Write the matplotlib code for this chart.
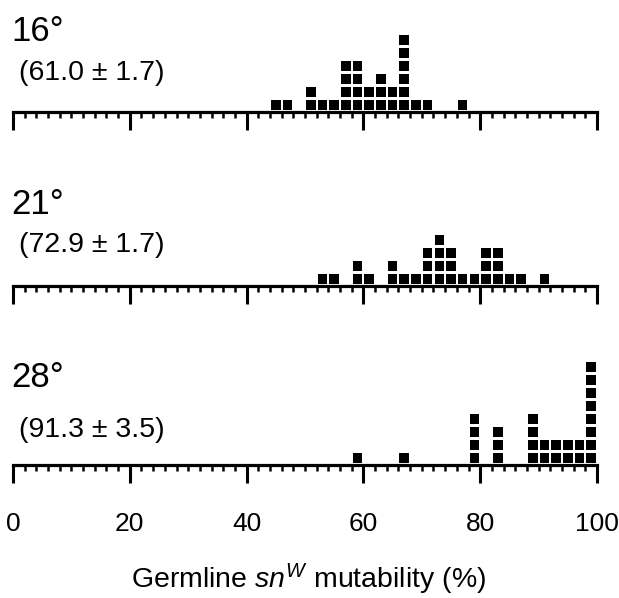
import matplotlib
matplotlib.use("Agg")
import matplotlib.pyplot as plt
from matplotlib.patches import Rectangle
from matplotlib.ticker import MultipleLocator

plt.rcParams['font.family'] = ['Liberation Sans', 'DejaVu Sans']
plt.rcParams['mathtext.fontset'] = 'custom'
plt.rcParams['mathtext.rm'] = 'Liberation Sans'
plt.rcParams['mathtext.it'] = 'Liberation Sans:italic'

# mutability bins (% , bin centres) and number of lines in each bin
bins16 = [45, 47, 51, 53, 55, 57, 59, 61, 63, 65, 67, 69, 71, 77]
counts16 = [1, 1, 2, 1, 1, 4, 4, 2, 3, 2, 6, 1, 1, 1]

bins21 = [53, 55, 59, 61, 65, 67, 69, 71, 73, 75, 77, 79, 81, 83, 85, 87, 91]
counts21 = [1, 1, 2, 1, 2, 1, 1, 3, 4, 3, 1, 1, 3, 3, 1, 1, 1]

bins28 = [59, 67, 79, 83, 89, 91, 93, 95, 97, 99]
counts28 = [1, 1, 4, 3, 4, 2, 2, 2, 2, 8]

temps = ['16°', '21°', '28°']
means = ['(61.0 ± 1.7)', '(72.9 ± 1.7)', '(91.3 ± 3.5)']
ticks = [0, 20, 40, 60, 80, 100]

W, H = 619, 598
fig = plt.figure(figsize=(W / 100, H / 100), dpi=100)

baselines = [112, 286, 465]        # axis line position, px from top
label_y = [41, 214, 387]           # temperature label baselines
mean_y = [80, 252, 437]            # mean +- sd baselines
row_px = 13
ax_h = 112

panels = [(bins16, counts16), (bins21, counts21), (bins28, counts28)]
for i, (bins, counts) in enumerate(panels):
    ax = fig.add_axes([13 / W, (H - baselines[i]) / H, 584 / W, ax_h / H])
    ax.set_xlim(0, 100)
    ax.set_ylim(0, ax_h / row_px)
    for b, c in zip(bins, counts):
        for k in range(c):
            ax.add_patch(Rectangle((b - 0.82, k + 0.14), 1.64, 0.82,
                                   color='black', lw=0, clip_on=False))
    for s in ['top', 'left', 'right']:
        ax.spines[s].set_visible(False)
    ax.spines['bottom'].set_linewidth(2.3)
    ax.set_yticks([])
    ax.xaxis.set_major_locator(MultipleLocator(20))
    ax.xaxis.set_minor_locator(MultipleLocator(2))
    ax.tick_params(axis='x', which='major', direction='out', length=13,
                   width=2.2, pad=21, labelsize=19)
    ax.tick_params(axis='x', which='minor', direction='out', length=4.5,
                   width=1.8)
    ax.set_xticks(ticks)
    if i < 2:
        ax.set_xticklabels([])
    ax.patch.set_alpha(0)

    fig.text(11 / W, 1 - label_y[i] / H, temps[i], fontsize=25,
             va='baseline', ha='left')
    fig.text(19 / W, 1 - mean_y[i] / H, means[i], fontsize=20.5,
             va='baseline', ha='left')

fig.text(309 / W, 1 - 588 / H, r'Germline $\mathit{sn}^{\mathit{W}}$ mutability (%)',
         fontsize=20.5, ha='center', va='baseline')

fig.savefig('out.png', dpi=100)
